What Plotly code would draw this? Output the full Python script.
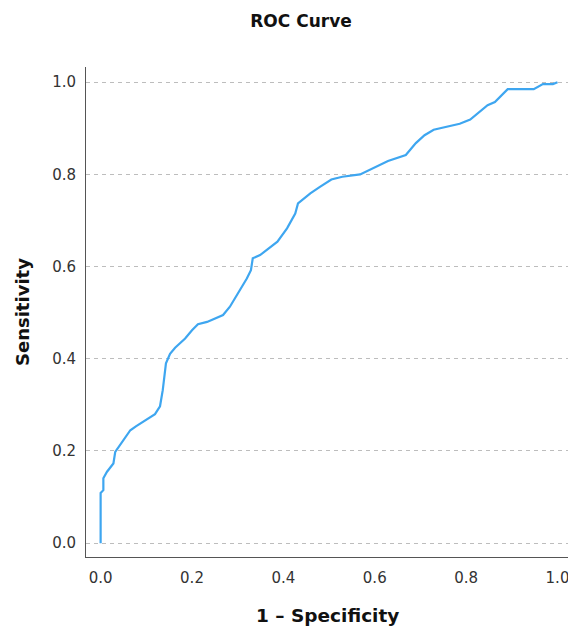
import plotly.graph_objects as go

# ROC curve points: false positive rate (1 - specificity) vs true positive rate
fpr = [0.0, 0.0, 0.006, 0.006, 0.014, 0.023, 0.028, 0.032, 0.047, 0.065,
       0.078, 0.119, 0.130, 0.136, 0.143, 0.152, 0.163, 0.185, 0.200, 0.213,
       0.233, 0.268, 0.283, 0.305, 0.320, 0.329, 0.333, 0.349, 0.387, 0.408,
       0.426, 0.432, 0.459, 0.480, 0.505, 0.529, 0.568, 0.629, 0.668, 0.690,
       0.709, 0.729, 0.786, 0.809, 0.847, 0.863, 0.891, 0.948, 0.968, 0.990,
       1.0]
tpr = [0.0, 0.109, 0.115, 0.141, 0.155, 0.166, 0.173, 0.198, 0.220, 0.245,
       0.254, 0.280, 0.297, 0.332, 0.390, 0.411, 0.424, 0.444, 0.462, 0.475,
       0.480, 0.495, 0.513, 0.549, 0.574, 0.592, 0.618, 0.625, 0.654, 0.683,
       0.715, 0.737, 0.759, 0.773, 0.789, 0.795, 0.800, 0.829, 0.842, 0.868,
       0.885, 0.897, 0.910, 0.919, 0.950, 0.957, 0.985, 0.985, 0.996, 0.996,
       1.0]

tick_vals = [0.0, 0.2, 0.4, 0.6, 0.8, 1.0]
tick_text = ["0.0", "0.2", "0.4", "0.6", "0.8", "1.0"]

FONT = "DejaVu Sans"
W, H = 568, 627
ML, MR, MT, MB = 86, 0, 67, 70

fig = go.Figure()
fig.add_trace(go.Scatter(
    x=fpr, y=tpr, mode="lines",
    line=dict(color="#3ea6f0", width=2.2),
    showlegend=False, hoverinfo="x+y",
))

fig.update_layout(
    width=W, height=H,
    margin=dict(l=ML, r=MR, t=MT, b=MB, autoexpand=False),
    paper_bgcolor="white", plot_bgcolor="white",
    font=dict(family=FONT, color="#333333", size=15),
    title=dict(
        text="<b>ROC Curve</b>", x=(W / 2 + 17) / W, xanchor="center",
        yref="container", y=1 - 21 / H, yanchor="middle",
        font=dict(family=FONT, size=17, color="#111111"),
    ),
    xaxis=dict(
        range=[-0.032, 1.023], tickvals=tick_vals, ticktext=tick_text,
        showgrid=False, zeroline=False,
        showline=True, linecolor="#555555", linewidth=1,
        ticks="", ticklabelstandoff=7, automargin=False,
        ticklabeloverflow="allow",
        tickfont=dict(family=FONT, size=15, color="#333333"),
    ),
    yaxis=dict(
        range=[-0.030, 1.033], tickvals=tick_vals, ticktext=tick_text,
        showgrid=True, gridcolor="#bdbdbd", gridwidth=1, griddash="4px,4px",
        zeroline=False,
        showline=True, linecolor="#555555", linewidth=1,
        ticks="", ticklabelstandoff=6, automargin=False,
        ticklabeloverflow="allow",
        tickfont=dict(family=FONT, size=15, color="#333333"),
    ),
    annotations=[
        dict(text="<b>1 \u2013 Specificity</b>", xref="paper", yref="paper",
             x=0.5, y=0, yshift=-58, xanchor="center", yanchor="middle",
             showarrow=False, font=dict(family=FONT, size=18.5, color="#111111")),
        dict(text="<b>Sensitivity</b>", xref="paper", yref="paper",
             x=0, xshift=-64, y=0.5, xanchor="center", yanchor="middle",
             textangle=-90, showarrow=False,
             font=dict(family=FONT, size=18, color="#111111")),
    ],
)

fig.write_html("out.html")
